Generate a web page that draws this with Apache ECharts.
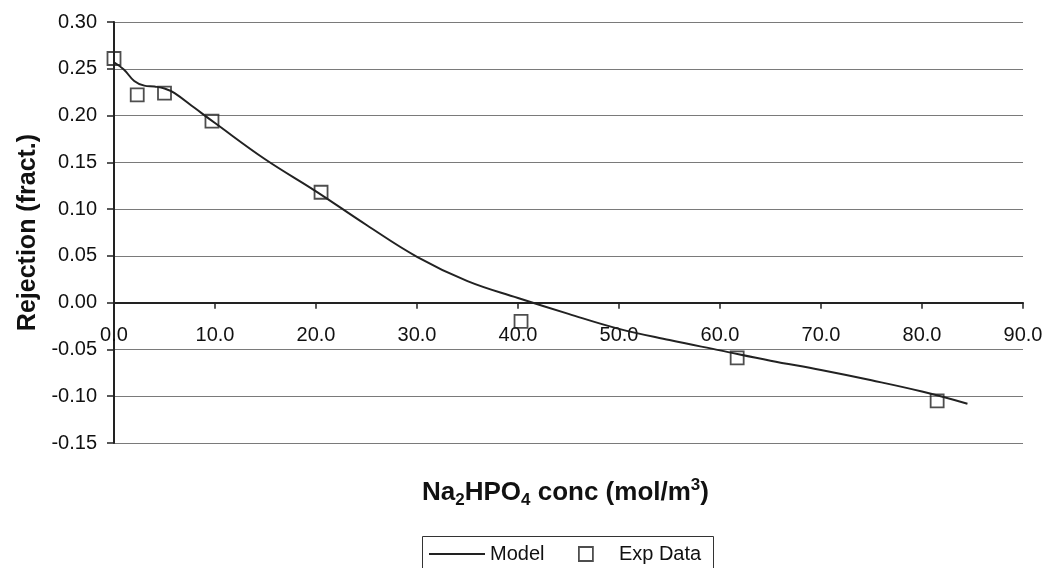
<!DOCTYPE html>
<html>
<head>
<meta charset="utf-8">
<style>
  html, body { margin: 0; padding: 0; background: #fff; }
  #chart { width: 1046px; height: 568px; }
</style>
<script src="https://cdn.jsdelivr.net/npm/echarts@6/dist/echarts.min.js"></script>
</head>
<body>
<div id="chart"></div>
<script>
// Model curve: Na2HPO4 concentration (mol/m3) vs rejection
const modelConc = [0, 1, 2, 3, 4, 5, 6, 8, 10, 15, 20, 25, 30, 35, 40, 45, 50, 55, 60, 65, 70, 75, 80, 84.5];
const modelRej  = [0.257, 0.249, 0.237, 0.232, 0.231, 0.229, 0.224, 0.208, 0.192, 0.153, 0.119, 0.083, 0.049, 0.023, 0.005, -0.012, -0.028, -0.040, -0.051, -0.062, -0.072, -0.083, -0.095, -0.108];

// Experimental points
const expConc = [0.0, 2.3, 5.0, 9.7, 20.5, 40.3, 61.7, 81.5];
const expRej  = [0.261, 0.222, 0.224, 0.194, 0.118, -0.020, -0.059, -0.105];

const xTicks = { min: 0, max: 90, interval: 10 };
const yTicks = { min: -0.15, max: 0.30, interval: 0.05 };

const chart = echarts.init(document.getElementById('chart'), null, { renderer: 'canvas' });

const font = 'Liberation Sans, Arial, sans-serif';

// grid geometry, used to lift the x axis onto the zero line
const gridTop = 22, gridBottom = 125, chartH = 568;
const gridH = chartH - gridTop - gridBottom;
const zeroOffset = -gridH * (0 - yTicks.min) / (yTicks.max - yTicks.min);

chart.setOption({
  animation: false,
  backgroundColor: '#ffffff',
  textStyle: { fontFamily: font },
  title: {
    text: '{b|Na}{s|2}{b|HPO}{s|4}{b| conc (mol/m}{u|3}{b|)}',
    left: 422,
    top: 477,
    padding: 0,
    textStyle: {
      rich: {
        b: { fontFamily: font, fontSize: 26, fontWeight: 'bold', color: '#111' },
        s: { fontFamily: font, fontSize: 17, fontWeight: 'bold', color: '#111', padding: [15, 0, 0, 0] },
        u: { fontFamily: font, fontSize: 17, fontWeight: 'bold', color: '#111', padding: [0, 0, 15, 0] }
      }
    }
  },
  grid: { left: 114, right: 23, top: gridTop, bottom: gridBottom, containLabel: false },
  legend: [
    {
      left: 429,
      top: 544,
      padding: 0,
      itemWidth: 56,
      itemHeight: 2,
      icon: 'rect',
      textStyle: { fontFamily: font, fontSize: 20, color: '#111' },
      data: [{ name: 'Model', itemStyle: { color: '#222' } }]
    },
    {
      left: 578,
      top: 544,
      padding: 0,
      itemWidth: 14,
      itemHeight: 14,
      icon: 'rect',
      textStyle: {
        fontFamily: font, fontSize: 20, color: '#111',
        rich: { t: { fontFamily: font, fontSize: 20, color: '#111', padding: [0, 0, 0, 21] } }
      },
      formatter: name => '{t|' + name + '}',
      data: [{ name: 'Exp Data', itemStyle: { color: '#fff', borderColor: '#222', borderWidth: 1.8 } }]
    }
  ],
  graphic: [
    {
      type: 'rect',
      shape: { x: 422.5, y: 536.5, width: 291, height: 40 },
      style: { fill: 'none', stroke: '#333', lineWidth: 1 },
      silent: true
    }
  ],
  xAxis: {
    type: 'value',
    min: xTicks.min,
    max: xTicks.max,
    interval: xTicks.interval,
    position: 'bottom',
    offset: zeroOffset,
    axisLine: { onZero: false, lineStyle: { color: '#222', width: 2 } },
    axisTick: { show: true, length: 6, inside: false, lineStyle: { color: '#222', width: 1.5 } },
    axisLabel: {
      fontFamily: font, fontSize: 20, color: '#111', margin: 23,
      formatter: v => v.toFixed(1)
    },
    splitLine: { show: false }
  },
  yAxis: {
    type: 'value',
    min: yTicks.min,
    max: yTicks.max,
    interval: yTicks.interval,
    name: 'Rejection (fract.)',
    nameLocation: 'middle',
    nameGap: 73,
    nameTextStyle: { fontFamily: font, fontSize: 25, fontWeight: 'bold', color: '#111' },
    axisLine: { show: true, onZero: false, lineStyle: { color: '#222', width: 2 } },
    axisTick: { show: true, length: 7, lineStyle: { color: '#222', width: 1.5 } },
    axisLabel: {
      fontFamily: font, fontSize: 20, color: '#111', margin: 17,
      formatter: v => v.toFixed(2)
    },
    splitLine: { show: true, lineStyle: { color: '#7a7a7a', width: 1.2 } }
  },
  series: [
    {
      name: 'Model',
      type: 'line',
      data: modelConc.map((x, i) => [x, modelRej[i]]),
      smooth: 0.4,
      showSymbol: false,
      symbol: 'none',
      lineStyle: { color: '#222', width: 2 },
      itemStyle: { color: '#222' },
      z: 3
    },
    {
      name: 'Exp Data',
      type: 'scatter',
      data: expConc.map((x, i) => [x, expRej[i]]),
      symbol: 'rect',
      symbolSize: 13,
      itemStyle: { color: 'rgba(255,255,255,0)', borderColor: '#222', borderWidth: 1.8 },
      z: 4
    }
  ]
});
</script>
</body>
</html>
